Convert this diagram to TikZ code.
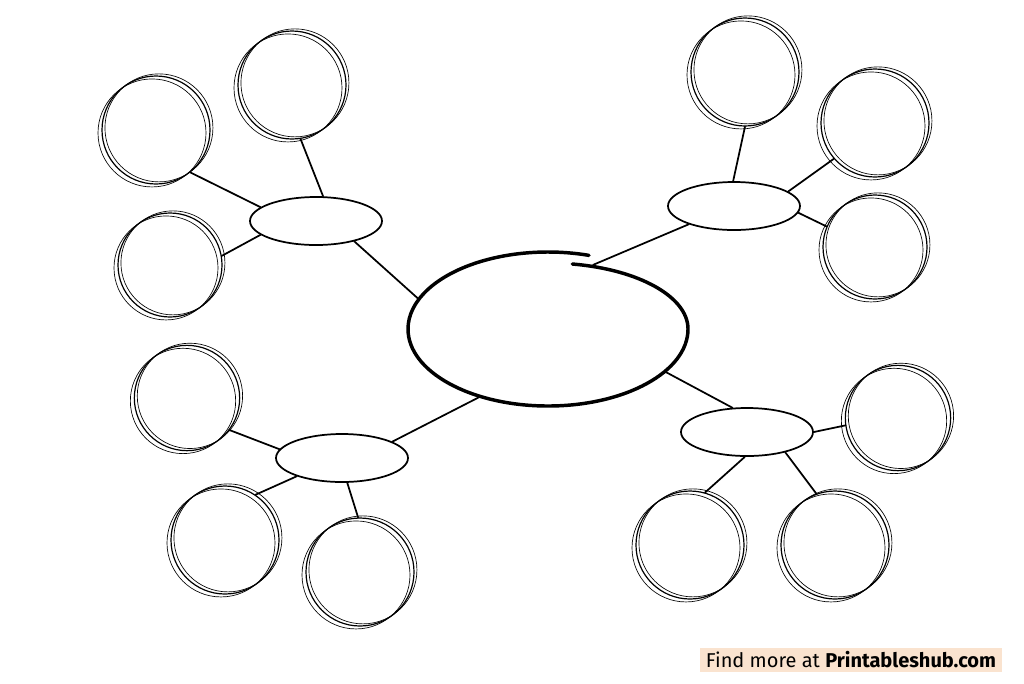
\documentclass[tikz,border=0pt]{standalone}
\usepackage{fontspec}
\setsansfont{Fira Sans}
\usetikzlibrary{shapes.geometric}
\definecolor{peach}{HTML}{FAE3CF}
\begin{document}
\begin{tikzpicture}[x=0.75pt,y=-0.75pt,line cap=round,
					every node/.style = {inner sep=0pt}]

\tikzstyle{bubble}=[circle, draw, line width=0.9pt, minimum size=81pt,
	preaction={draw, line width=0.5pt, transform canvas={xshift=-3pt,yshift=-2.2pt}},
	postaction={draw, line width=0.5pt, transform canvas={xshift=2.2pt,yshift=1.6pt}}]
\tikzstyle{branch}=[ellipse, draw, line width=1.3pt, minimum width=99pt, minimum height=36pt]
\tikzstyle{link}=[line width=1.3pt]

\useasboundingbox[fill=white] (0,0) rectangle (1024,683);

% centre
\node[ellipse, minimum width=210pt, minimum height=115pt] (hub) at (548,329) {};
\draw[line width=2.6pt] (hub.center) ++(-80:140 and 66)
	arc[start angle=-80, end angle=0, x radius=140, y radius=66]
	arc[start angle=0, end angle=287, x radius=140, y radius=77];

% branches
\node[branch] (tl) at (316,221) {};
\node[branch] (tr) at (734,206) {};
\node[branch] (bl) at (342,458) {};
\node[branch] (br) at (747,432) {};

\node[bubble] (tl1) at (156,130) {};
\node[bubble] (tl2) at (292,85) {};
\node[bubble, minimum size=78pt] (tl3) at (170,265) {};
\node[bubble] (tr1) at (745,72) {};
\node[bubble] (tr2) at (875,123) {};
\node[bubble, minimum size=78pt] (tr3) at (875,247) {};
\node[bubble, minimum size=79pt] (bl1) at (187,398) {};
\node[bubble] (bl2) at (225,540) {};
\node[bubble] (bl3) at (360,572) {};
\node[bubble, minimum size=79pt] (br1) at (898,418) {};
\node[bubble] (br2) at (690,545) {};
\node[bubble] (br3) at (835,545) {};

\draw[link] (tl1.-51) -- (tl.166);
\draw[link] (tl2.-81) -- (tl.74);
\draw[link] (tl3.10) -- (tl.194);
\draw[link] (tl.-28) -- (hub.167);

\draw[link] (tr1.-90) -- (tr.92);
\draw[link] (tr2.221) -- (tr.15);
\draw[link] (tr3.157) -- (tr.-6);
\draw[link, shorten >=-11pt] (tr.202) -- (hub.50);

\draw[link] (bl1.-37) -- (bl.172);
\draw[link] (bl2.56) -- (bl.202);
\draw[link] (bl3.92) -- (bl.-78);
\draw[link] (bl.18) -- (hub.225);

\draw[link] (br1.188) -- (br.0);
\draw[link] (br2.74) -- (br.-95);
\draw[link] (br3.110) -- (br.-28);
\draw[link] (hub.-20) -- (br.121);

% footer
\node[fill=peach, minimum width=226pt, minimum height=18pt, font=\sffamily\fontsize{15}{17}\selectfont]
	(credit) at (851,660) {Find more at \textbf{Printableshub.com}};
\end{tikzpicture}
\end{document}
